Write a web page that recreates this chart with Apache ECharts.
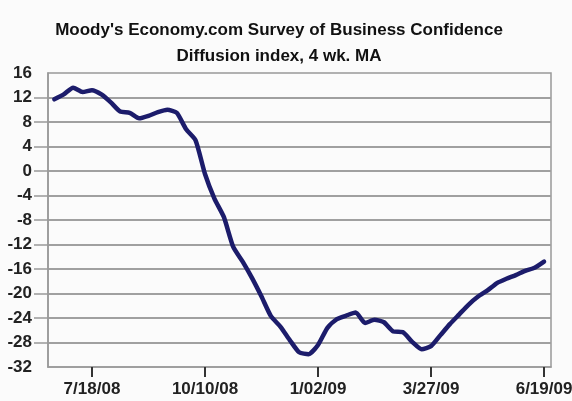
<!DOCTYPE html>
<html>
<head>
<meta charset="utf-8">
<script src="https://cdn.jsdelivr.net/npm/echarts@6/dist/echarts.min.js"></script>
<style>
html,body{margin:0;padding:0;background:#fbfbfb;}
#chart{width:572px;height:401px;}
</style>
</head>
<body>
<div id="chart"></div>
<script>
// Weeks relative to 7/18/08 (week 0), weekly observations
var weeks = [-4,-3,-2,-1,0,1,2,3,4,5,6,7,8,9,10,11,12,13,14,15,16,17,18,19,20,21,22,23,24,25,26,27,28,29,30,31,32,33,34,35,36,37,38,39,40,41,42,43,44,45,46,47,48];
var values = [11.7,12.5,13.6,12.9,13.2,12.5,11.2,9.7,9.5,8.6,9.0,9.6,10.0,9.5,6.8,5.0,-0.5,-4.5,-7.5,-12.4,-14.8,-17.5,-20.5,-23.7,-25.4,-27.6,-29.6,-29.9,-28.4,-25.6,-24.2,-23.6,-23.1,-24.8,-24.3,-24.7,-26.2,-26.3,-27.9,-29.1,-28.6,-26.8,-25.0,-23.4,-21.8,-20.5,-19.5,-18.3,-17.6,-17.0,-16.3,-15.8,-14.8];
var xTickWeeks = [0,12,24,36,48];
var xTickLabels = ['7/18/08','10/10/08','1/02/09','3/27/09','6/19/09'];
var yTickValues = [12,8,4,0,-4,-8,-12,-16,-20,-24,-28];
var titleLine1 = "Moody's Economy.com Survey of Business Confidence";
var titleLine2 = "Diffusion index, 4 wk. MA";

var chart = echarts.init(document.getElementById('chart'));
var font = 'Liberation Sans, Arial, sans-serif';
chart.setOption({
  backgroundColor: '#fbfbfb',
  animation: false,
  title: [
    {text: titleLine1, left: 274, top: 17, textAlign: 'center',
     textStyle: {fontFamily: font, fontSize: 17, fontWeight: 'bold', color: '#111'}},
    {text: titleLine2, left: 274, top: 43, textAlign: 'center',
     textStyle: {fontFamily: font, fontSize: 17, fontWeight: 'bold', color: '#111'}}
  ],
  grid: {left: 48, right: 21, top: 73, bottom: 34, outerBoundsMode: 'none', containLabel: false,
         show: true, borderColor: '#999', borderWidth: 1.5, backgroundColor: 'transparent'},
  xAxis: {
    type: 'value', min: -4.67, max: 48.74,
    axisLine: {show: true, onZero: false, lineStyle: {color: '#999', width: 1.5}},
    splitLine: {show: false},
    axisTick: {show: true, length: 10, inside: false, customValues: xTickWeeks, lineStyle: {color: '#333', width: 2}},
    axisLabel: {customValues: xTickWeeks, margin: 14, fontFamily: font, fontSize: 17, fontWeight: 'bold', color: '#222',
      formatter: function (v) { var i = xTickWeeks.indexOf(v); return i >= 0 ? xTickLabels[i] : ''; }}
  },
  yAxis: {
    type: 'value', min: -32, max: 16, interval: 4,
    axisLine: {show: true, onZero: false, lineStyle: {color: '#999', width: 1.5}},
    splitLine: {show: true, lineStyle: {color: '#a0a0a0', width: 2}},
    axisTick: {show: true, length: 14, customValues: yTickValues, lineStyle: {color: '#999', width: 1.5}},
    axisLabel: {margin: 16, fontFamily: font, fontSize: 17, fontWeight: 'bold', color: '#222'}
  },
  series: [{
    type: 'line',
    data: weeks.map(function (w, i) { return [w, values[i]]; }),
    showSymbol: false,
    lineStyle: {color: '#1c1c6b', width: 4.5, join: 'round', cap: 'round'},
    smooth: 0.2
  }]
});
</script>
</body>
</html>
